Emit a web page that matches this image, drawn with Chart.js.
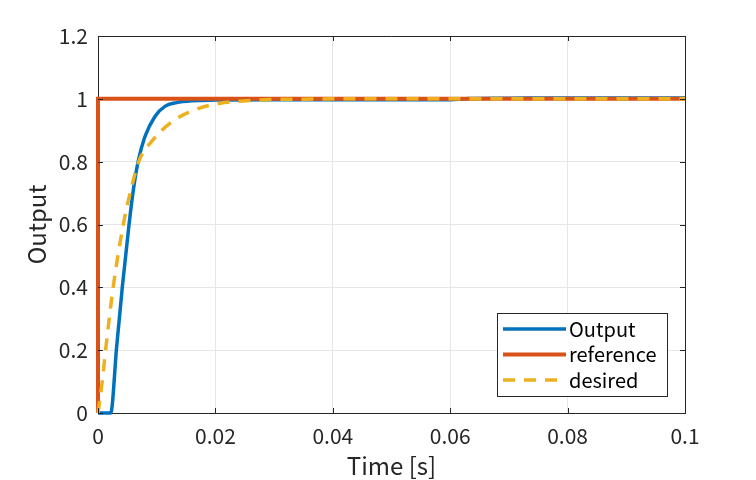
<!DOCTYPE html>
<html>
<head>
<meta charset="utf-8">
<script src="https://cdn.jsdelivr.net/npm/chart.js@4.4.1/dist/chart.umd.min.js"></script>
<style>
  html, body { margin: 0; padding: 0; background: #fff; }
</style>
</head>
<body>
<canvas id="chart" width="756" height="480"></canvas>
<script>
// ===== data =====
const outputTime = [0, 0.00216, 0.00318, 0.00415, 0.00528, 0.00602, 0.00687, 0.0080, 0.0097, 0.0114, 0.0134, 0.016, 0.02, 0.03, 0.04, 0.05, 0.059, 0.0634, 0.07, 0.079, 0.09, 0.1];
const outputValue = [0, 0, 0.211, 0.402, 0.599, 0.71, 0.803, 0.88, 0.944, 0.976, 0.988, 0.994, 0.996, 0.997, 0.997, 0.997, 0.997, 1.001, 1.002, 1.003, 1.003, 1.003];

const referenceTime = [0, 0, 0.1];
const referenceValue = [0, 1, 1];

const desiredTime = [0, 0.00074, 0.00136, 0.0026, 0.0043, 0.0056, 0.0070, 0.0094, 0.0123, 0.0162, 0.0208, 0.0247, 0.0293, 0.035, 0.04, 0.1];
const desiredValue = [0, 0.103, 0.211, 0.402, 0.599, 0.71, 0.803, 0.87, 0.923, 0.963, 0.986, 0.993, 0.998, 0.999, 1.0, 1.0];

const xTicks = [0, 0.02, 0.04, 0.06, 0.08, 0.1];
const yTicks = [0, 0.2, 0.4, 0.6, 0.8, 1, 1.2];

const seriesNames = ["Output", "reference", "desired"];

const AXIS_COLOR = "#262626";
const FONT = "'Noto Sans CJK JP', 'Noto Sans', sans-serif";

const toPoints = (ts, vs) => ts.map((t, i) => ({ x: t, y: vs[i] }));

// MATLAB style box + inward ticks on all four sides, legend inside the axes
const boxPlugin = {
  id: "matlabBox",
  afterDatasetsDraw(chart) {
    const { ctx, chartArea: a, scales } = chart;
    ctx.save();
    ctx.strokeStyle = AXIS_COLOR;
    ctx.lineWidth = 1;
    ctx.beginPath();
    ctx.moveTo(a.left, a.top + 0.5);
    ctx.lineTo(a.right + 0.5, a.top + 0.5);
    ctx.lineTo(a.right + 0.5, a.bottom);
    ctx.stroke();

    const len = 5;
    ctx.beginPath();
    xTicks.forEach((v) => {
      const px = Math.round(scales.x.getPixelForValue(v)) + 0.5;
      ctx.moveTo(px, a.bottom);
      ctx.lineTo(px, a.bottom - len);
      ctx.moveTo(px, a.top);
      ctx.lineTo(px, a.top + len);
    });
    yTicks.forEach((v) => {
      const py = Math.round(scales.y.getPixelForValue(v)) + 0.5;
      ctx.moveTo(a.left, py);
      ctx.lineTo(a.left + len, py);
      ctx.moveTo(a.right, py);
      ctx.lineTo(a.right - len, py);
    });
    ctx.stroke();
    ctx.restore();
  },
  afterDraw(chart) {
    const { ctx } = chart;
    const bx = 497, by = 313, bw = 170, bh = 83;
    ctx.save();
    ctx.fillStyle = "#fff";
    ctx.fillRect(bx, by, bw, bh);
    ctx.strokeStyle = AXIS_COLOR;
    ctx.lineWidth = 1;
    ctx.strokeRect(bx + 0.5, by + 0.5, bw, bh);

    const rows = [329, 354.5, 380];
    chart.data.datasets.forEach((ds, i) => {
      const y = rows[i];
      ctx.beginPath();
      ctx.strokeStyle = ds.borderColor;
      ctx.lineWidth = ds.borderWidth;
      ctx.setLineDash(ds.borderDash || []);
      ctx.moveTo(503, y);
      ctx.lineTo(566, y);
      ctx.stroke();
      ctx.setLineDash([]);
      ctx.fillStyle = "#000";
      ctx.font = "20px " + FONT;
      ctx.textBaseline = "middle";
      ctx.textAlign = "left";
      ctx.fillText(seriesNames[i], 569, y);
    });
    ctx.restore();
  },
};

const fmt = (v) => String(Math.round(v * 100) / 100);

new Chart(document.getElementById("chart"), {
  type: "line",
  data: {
    datasets: [
      {
        label: seriesNames[0],
        data: toPoints(outputTime, outputValue),
        borderColor: "#0072BD",
        borderWidth: 3.5,
        cubicInterpolationMode: "monotone",
        order: 2,
      },
      {
        label: seriesNames[1],
        data: toPoints(referenceTime, referenceValue),
        borderColor: "#D95319",
        borderWidth: 4,
        tension: 0,
        order: 1,
      },
      {
        label: seriesNames[2],
        data: toPoints(desiredTime, desiredValue),
        borderColor: "#EDB120",
        borderWidth: 3.5,
        borderDash: [12, 9],
        cubicInterpolationMode: "monotone",
        order: 0,
      },
    ],
  },
  options: {
    responsive: false,
    animation: false,
    devicePixelRatio: 1,
    layout: { padding: { top: 36, right: 71, left: 0, bottom: 0 } },
    elements: { point: { radius: 0 } },
    datasets: { line: { clip: false, fill: false } },
    plugins: { legend: { display: false }, tooltip: { enabled: false } },
    scales: {
      x: {
        type: "linear",
        min: 0,
        max: 0.1,
        afterBuildTicks: (s) => { s.ticks = xTicks.map((v) => ({ value: v })); },
        afterFit: (s) => { s.height = 67; },
        grid: { color: "#e6e6e6", drawTicks: false },
        border: { color: AXIS_COLOR, width: 1 },
        ticks: { color: AXIS_COLOR, padding: 10, maxRotation: 0, font: { family: FONT, size: 21 }, callback: fmt },
        title: { display: true, text: "Time [s]", color: AXIS_COLOR, padding: { top: 0, bottom: 2 }, font: { family: FONT, size: 24, lineHeight: 1 } },
      },
      y: {
        type: "linear",
        min: 0,
        max: 1.2,
        afterBuildTicks: (s) => { s.ticks = yTicks.map((v) => ({ value: v })); },
        afterFit: (s) => { s.width = 98; },
        grid: { color: "#e6e6e6", drawTicks: false },
        border: { color: AXIS_COLOR, width: 1 },
        ticks: { color: AXIS_COLOR, padding: 10, font: { family: FONT, size: 21 }, callback: fmt },
        title: { display: true, text: "Output", color: AXIS_COLOR, padding: { top: 25, bottom: 0 }, font: { family: FONT, size: 24, lineHeight: 1 } },
      },
    },
  },
  plugins: [boxPlugin],
});
</script>
</body>
</html>
